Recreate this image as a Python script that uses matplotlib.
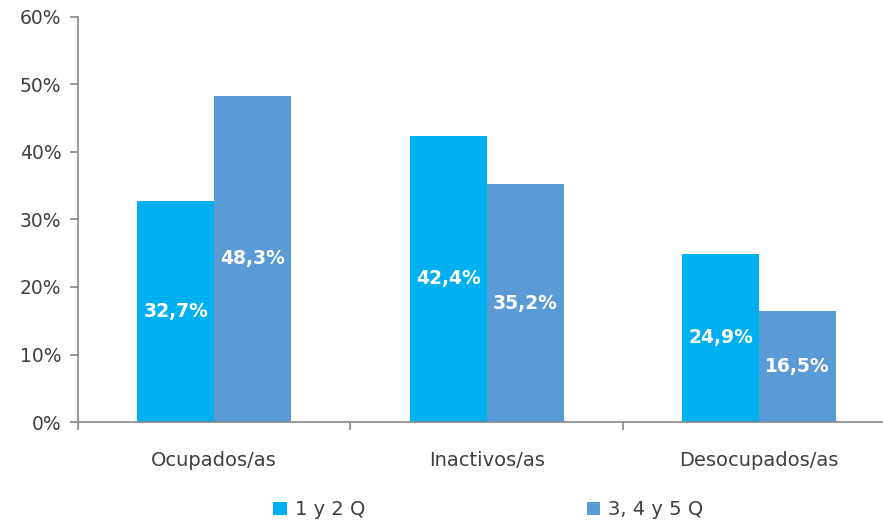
import matplotlib.pyplot as plt
import numpy as np
from matplotlib.ticker import FuncFormatter, FixedLocator

categories = ["Ocupados/as", "Inactivos/as", "Desocupados/as"]
serie_12 = [32.7, 42.4, 24.9]
serie_345 = [48.3, 35.2, 16.5]
series_names = ["1 y 2 Q", "3, 4 y 5 Q"]

color_12 = "#00B0F0"
color_345 = "#5B9BD5"
grey = "#404040"

plt.rcParams["font.family"] = ["DejaVu Sans"]

fig = plt.figure(figsize=(8.83, 5.23), dpi=100)
ax = fig.add_axes([78 / 883, 101 / 523, 1 - 78 / 883, 405 / 523])

x = np.arange(len(categories))
w = 0.283
b1 = ax.bar(x - w / 2, serie_12, width=w, color=color_12, label=series_names[0])
b2 = ax.bar(x + w / 2, serie_345, width=w, color=color_345, label=series_names[1])

# value labels in the middle of each bar
for bars in (b1, b2):
    for rect in bars:
        h = rect.get_height()
        ax.text(rect.get_x() + rect.get_width() / 2, h / 2,
                f"{h:.1f}%".replace(".", ","), ha="center", va="center",
                color="white", fontsize=13.5, fontweight="bold")

ax.set_ylim(0, 60)
ax.set_yticks(range(0, 61, 10))
ax.yaxis.set_major_formatter(FuncFormatter(lambda v, p: f"{v:.0f}%"))
ax.set_xlim(-0.5, 2.455)
ax.set_xticks(x)
ax.set_xticklabels(categories)
ax.xaxis.set_minor_locator(FixedLocator([-0.5, 0.5, 1.5, 2.5]))
ax.tick_params(axis="x", which="major", length=0, pad=21, labelsize=14, labelcolor=grey)
ax.tick_params(axis="x", which="minor", length=6, color="#868686", width=1.2)
ax.tick_params(axis="y", length=6, color="#868686", width=1.2, labelsize=13.5,
               labelcolor=grey, pad=6)

for s in ("top", "right"):
    ax.spines[s].set_visible(False)
for s in ("left", "bottom"):
    ax.spines[s].set_color("#868686")
    ax.spines[s].set_linewidth(1.2)

leg = fig.legend(handles=[b1, b2], labels=series_names, loc="center",
                 bbox_to_anchor=(0.553, 0.025), ncol=2, frameon=False,
                 fontsize=14, handlelength=0.7, handleheight=0.7,
                 handletextpad=0.4, columnspacing=11.4)
for t in leg.get_texts():
    t.set_color(grey)

fig.savefig("out.png", dpi=100)
